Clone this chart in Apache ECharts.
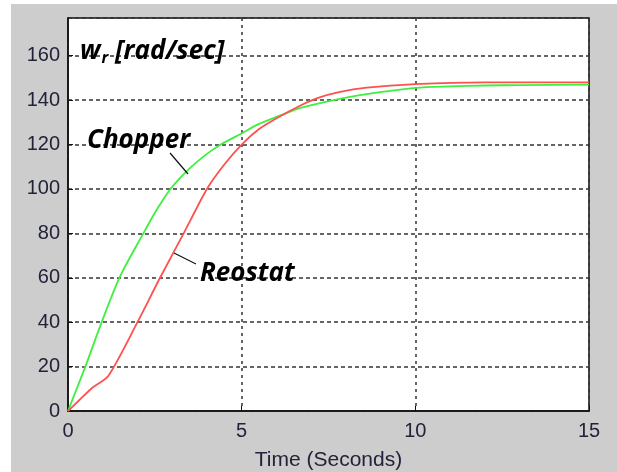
<!DOCTYPE html>
<html>
<head>
<meta charset="utf-8">
<script src="https://cdn.jsdelivr.net/npm/echarts@6/dist/echarts.min.js"></script>
<style>
html,body{margin:0;padding:0;background:#fff;}
#c{width:617px;height:472px;}
</style>
</head>
<body>
<div id="c"></div>
<script>
// Time (s) / speed (rad/sec)
var chopperT = [0, 0.25, 0.5, 0.97, 1.48, 2.17, 2.55, 2.95, 3.45, 4.0, 4.4, 5.0, 5.5, 6.1, 6.7, 7.65, 8.5, 10, 11, 12, 13, 15];
var chopperW = [0, 10, 20, 40, 60, 80, 90.5, 100, 108.5, 115.8, 120, 125, 129.3, 133, 136.5, 140, 142.5, 145.5, 146.2, 146.6, 146.8, 147];
var reostatT = [0, 0.3, 0.7, 1.16, 2.0, 2.65, 3.33, 4.0, 4.5, 5.0, 5.5, 6.02, 6.68, 7.2, 7.8, 8.6, 10, 12, 15];
var reostatW = [0, 4.5, 10.5, 15.8, 40, 60, 80, 100, 111, 120, 127, 132, 137.5, 141, 143.6, 145.6, 147.2, 148, 148];
var xTicks = [0, 5, 10, 15];
var yTicks = [0, 20, 40, 60, 80, 100, 120, 140, 160];

function pairs(t, v) { return t.map(function (x, i) { return [x, v[i]]; }); }

var chart = echarts.init(document.getElementById('c'));
var labelColor = '#22223a';
var annoFont = { fontFamily: 'Open Sans', fontWeight: 'bold', fontStyle: 'italic', fontSize: 26, fill: '#000' };
chart.setOption({
  backgroundColor: '#ffffff',
  animation: false,
  grid: { left: 68, top: 18, right: 28, bottom: 61, show: true, backgroundColor: 'transparent', borderColor: '#111', borderWidth: 1.5, outerBoundsMode: 'none', containLabel: false },
  xAxis: {
    type: 'value', min: 0, max: 15, interval: 5,
    name: 'Time (Seconds)', nameLocation: 'middle', nameGap: 39,
    nameTextStyle: { fontFamily: 'Liberation Sans', fontSize: 21, color: labelColor },
    axisLine: { show: true, onZero: false, lineStyle: { color: '#111', width: 1.5 } },
    axisTick: { show: true, inside: true, length: 5, lineStyle: { color: '#111' } },
    axisLabel: { margin: 10, fontFamily: 'Liberation Sans', fontSize: 20, color: labelColor,
      formatter: function (v) { return xTicks.indexOf(v) >= 0 ? String(v) : ''; } },
    splitLine: { show: true, lineStyle: { color: '#333', type: [3, 4], width: 1.5 } }
  },
  yAxis: {
    type: 'value', min: 0, max: 177, interval: 20,
    axisLine: { show: true, onZero: false, lineStyle: { color: '#111', width: 1.5 } },
    axisTick: { show: true, inside: true, length: 5, lineStyle: { color: '#111' } },
    axisLabel: { margin: 8, fontFamily: 'Liberation Sans', fontSize: 20, color: labelColor, showMaxLabel: false,
      formatter: function (v) { return yTicks.indexOf(v) >= 0 ? String(v) : ''; } },
    splitLine: { show: true, lineStyle: { color: '#333', type: [4, 3], width: 1.5 } }
  },
  series: [
    { name: 'Chopper', type: 'line', data: pairs(chopperT, chopperW), smooth: 0.3, showSymbol: false,
      lineStyle: { color: '#3ef03e', width: 1.8 }, z: 3 },
    { name: 'Reostat', type: 'line', data: pairs(reostatT, reostatW), smooth: 0.25, showSymbol: false,
      lineStyle: { color: '#ff4f4f', width: 1.8 }, z: 4 }
  ],
  graphic: [
    { type: 'rect', z: -10, silent: true, shape: { x: 11, y: 4, width: 606, height: 468 }, style: { fill: '#cdcdcd' } },
    { type: 'rect', z: -9, silent: true, shape: { x: 68, y: 18, width: 521, height: 393 }, style: { fill: '#ffffff' } },
    { type: 'text', z: 100, left: 80, top: 39, style: {
        text: '{b|w}{s|r}{b| [rad/sec]}',
        rich: {
          b: annoFont,
          s: { fontFamily: 'Open Sans', fontWeight: 'bold', fontStyle: 'italic', fontSize: 16, fill: '#000', padding: [13, 0, 0, 1] }
        } } },
    { type: 'text', z: 100, left: 87, top: 128, style: Object.assign({ text: 'Chopper' }, annoFont) },
    { type: 'text', z: 100, left: 200, top: 261, style: Object.assign({ text: 'Reostat' }, annoFont) },
    { type: 'line', z: 100, shape: { x1: 170, y1: 153, x2: 188, y2: 174 }, style: { stroke: '#111', lineWidth: 1.2 } },
    { type: 'line', z: 100, shape: { x1: 174, y1: 253, x2: 196, y2: 264 }, style: { stroke: '#111', lineWidth: 1.2 } }
  ]
});
</script>
</body>
</html>
